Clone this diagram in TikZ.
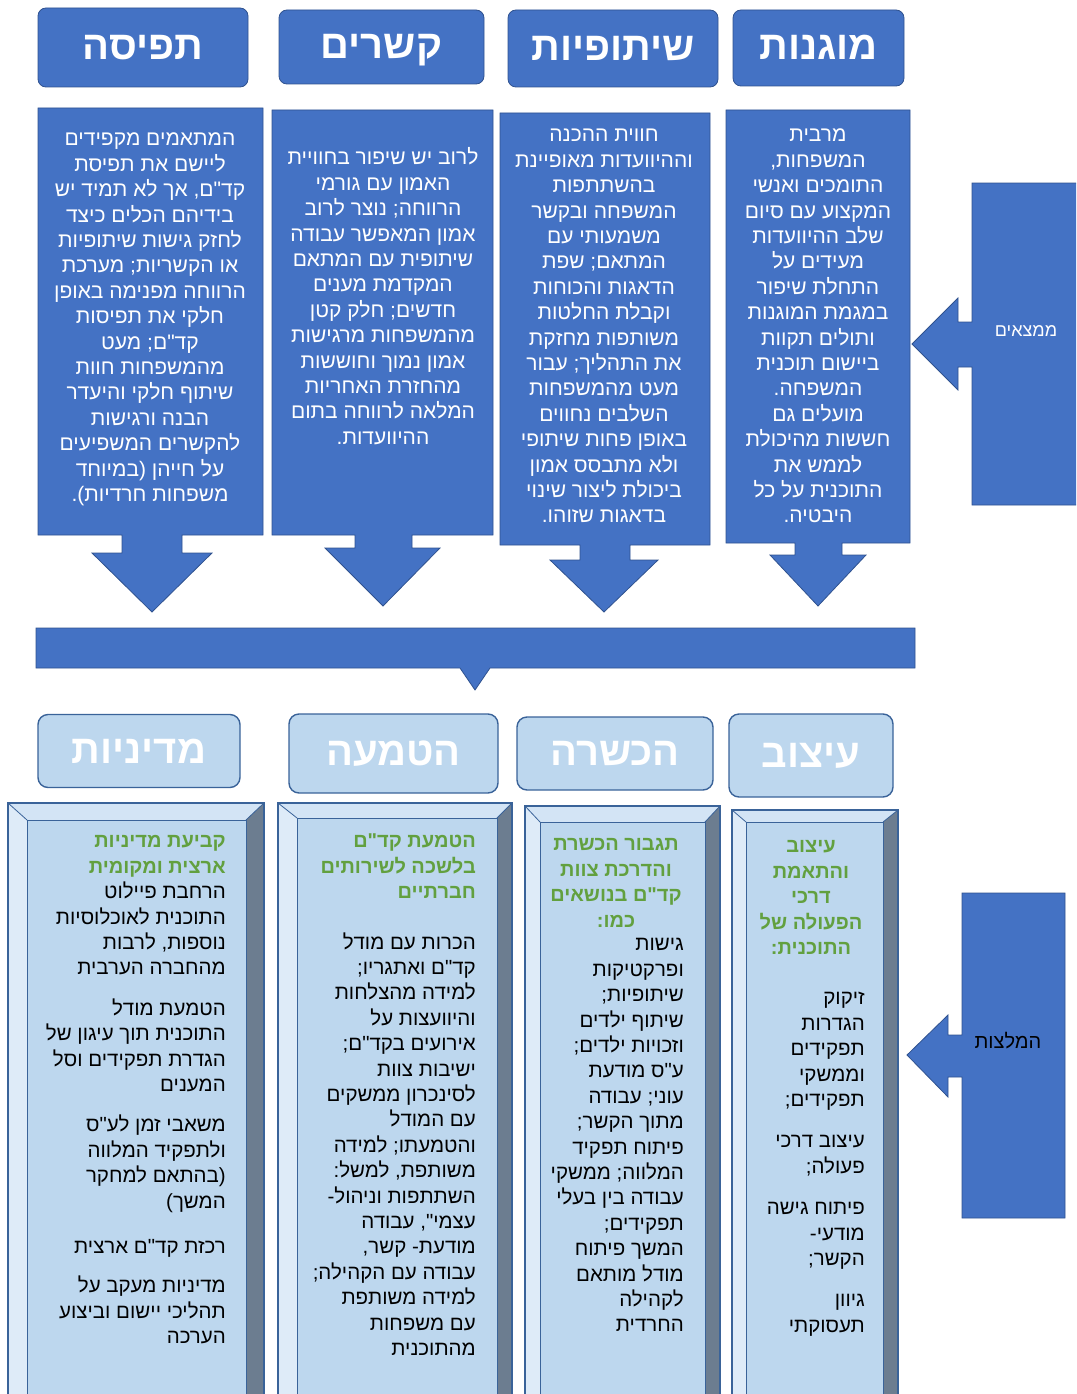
\documentclass[tikz,border=0pt]{standalone}
\usepackage{fontspec}
\TeXXeTstate=1
\newfontfamily\heb[Script=Hebrew]{Liberation Sans}
\newcommand\rl[1]{\strut\beginR#1\endR}
\definecolor{tblue}{HTML}{4472C4}
\definecolor{tborder}{HTML}{2F528F}
\definecolor{lblue}{HTML}{BDD7EE}
\definecolor{lborder}{HTML}{3A6399}
\definecolor{bvtopc}{HTML}{D3E4F5}
\definecolor{bvleftc}{HTML}{DEEBF8}
\definecolor{bvrightc}{HTML}{6C7D90}
\definecolor{hgreen}{HTML}{62A03F}
\newcommand\bevelbox[7]{%
  \fill[bvtopc] (#1,#2) -- (#3,#2) -- (#6,#5) -- (#4,#5) -- cycle;
  \fill[bvleftc] (#1,#2) -- (#4,#5) -- (#4,#7) -- (#1,#7) -- cycle;
  \fill[bvrightc] (#3,#2) -- (#3,#7) -- (#6,#7) -- (#6,#5) -- cycle;
  \draw[lborder,line width=0.8pt,fill=lblue] (#4,#5) rectangle (#6,#7);
  \draw[lborder,line width=0.8pt] (#1,#2) -- (#4,#5) (#3,#2) -- (#6,#5);
  \draw[lborder,line width=1.4pt] (#1,#7) -- (#1,#2) -- (#3,#2) -- (#3,#7);
}
\begin{document}
\begin{tikzpicture}[x=1pt,y=-1pt,
  tophdr/.style={rounded corners=8pt,fill=tblue,draw=tborder,line width=0.8pt,text=white,
    font=\heb\bfseries\fontsize{40}{46}\selectfont,inner sep=0pt,text height=30pt,text depth=6pt},
  bothdr/.style={rounded corners=10pt,fill=lblue,draw=lborder,line width=1.4pt,text=white,
    font=\heb\bfseries\fontsize{40}{46}\selectfont,inner sep=0pt,text height=30pt,text depth=6pt},
  calloutshape/.style={fill=tblue,draw=tborder,line width=0.8pt},
  toptext/.style={text=white,align=center,anchor=north,inner sep=0pt,
    font=\heb\fontsize{21}{25.4}\selectfont},
  bodytext/.style={text=black,align=right,anchor=north east,inner sep=0pt,
    font=\heb\fontsize{20.5}{25.4}\selectfont},
  greentext/.style={text=hgreen,inner sep=0pt,
    font=\heb\bfseries\fontsize{20}{25.4}\selectfont}
]
\useasboundingbox (0,0) rectangle (1076,1394);
\clip (0,0) rectangle (1076,1394);

% ---------- top headers ----------
\node[tophdr,minimum width=210pt,minimum height=79pt] (hTfisa) at (143,47.5) {\rl{תפיסה}};
\node[tophdr,minimum width=205pt,minimum height=74pt] (hKsharim) at (381.5,47) {\rl{קשרים}};
\node[tophdr,minimum width=210pt,minimum height=77pt] (hShitufiut) at (613,48.5) {\rl{שיתופיות}};
\node[tophdr,minimum width=171pt,minimum height=76pt] (hMugnut) at (818.5,48) {\rl{מוגנות}};

% ---------- top callouts ----------
\draw[calloutshape] (38,108) -- (263,108) -- (263,535) -- (182,535) -- (182,553) -- (212,553)
  -- (152,612) -- (92,553) -- (122,553) -- (122,535) -- (38,535) -- cycle;
\draw[calloutshape] (272,110) -- (493,110) -- (493,535) -- (412,535) -- (412,548) -- (440,548)
  -- (383,606) -- (325,548) -- (355,548) -- (355,535) -- (272,535) -- cycle;
\draw[calloutshape] (500,113) -- (710,113) -- (710,545) -- (630,545) -- (630,560) -- (658,560)
  -- (604,612) -- (550,560) -- (580,560) -- (580,545) -- (500,545) -- cycle;
\draw[calloutshape] (726,110) -- (910,110) -- (910,543) -- (842,543) -- (842,555) -- (866,555)
  -- (818,606) -- (770,555) -- (795,555) -- (795,543) -- (726,543) -- cycle;

\node[toptext] (tTfisa) at (150,128) {%
\rl{המתאמים מקפידים}\\
\rl{ליישם את תפיסת}\\
\rl{קד"ם, אך לא תמיד יש}\\
\rl{בידיהם הכלים כיצד}\\
\rl{לחזק גישות שיתופיות}\\
\rl{או הקשריות; מערכת}\\
\rl{הרווחה מפנימה באופן}\\
\rl{חלקי את תפיסות}\\
\rl{קד"ם; מעט}\\
\rl{מהמשפחות חוות}\\
\rl{שיתוף חלקי והיעדר}\\
\rl{הבנה ורגישות}\\
\rl{להקשרים המשפיעים}\\
\rl{על חייהן (במיוחד}\\
\rl{משפחות  חרדיות).}};

\node[toptext] (tKsharim) at (383,147) {%
\rl{לרוב יש שיפור בחוויית}\\
\rl{האמון עם גורמי}\\
\rl{הרווחה; נוצר לרוב}\\
\rl{אמון המאפשר עבודה}\\
\rl{שיתופית עם המתאם}\\
\rl{המקדמת מענים}\\
\rl{חדשים; חלק קטן}\\
\rl{מהמשפחות מרגישות}\\
\rl{אמון נמוך וחוששות}\\
\rl{מהחזרת האחריות}\\
\rl{המלאה לרווחה בתום}\\
\rl{ההיוועדות.}};

\node[toptext] (tShitufiut) at (604,124) {%
\rl{חווית ההכנה}\\
\rl{וההיוועדות מאופיינת}\\
\rl{בהשתתפות}\\
\rl{המשפחה ובקשר}\\
\rl{משמעותי עם}\\
\rl{המתאם; שפת}\\
\rl{הדאגות והכוחות}\\
\rl{וקבלת החלטות}\\
\rl{משותפות מחזקת}\\
\rl{את התהליך; עבור}\\
\rl{מעט מהמשפחות}\\
\rl{השלבים נחווים}\\
\rl{באופן פחות שיתופי}\\
\rl{ולא מתבסס אמון}\\
\rl{ביכולת ליצור שינוי}\\
\rl{בדאגות שזוהו.}};

\node[toptext] (tMugnut) at (818,124) {%
\rl{מרבית}\\
\rl{המשפחות,}\\
\rl{התומכים ואנשי}\\
\rl{המקצוע עם סיום}\\
\rl{שלב ההיוועדות}\\
\rl{מעידים על}\\
\rl{התחלת שיפור}\\
\rl{במגמת המוגנות}\\
\rl{ותולים תקוות}\\
\rl{ביישום תוכנית}\\
\rl{המשפחה.}\\
\rl{מועלים גם}\\
\rl{חששות מהיכולת}\\
\rl{לממש את}\\
\rl{התוכנית על כל}\\
\rl{היבטיה.}};

% ---------- right arrow: findings ----------
\draw[calloutshape] (972,183) -- (1080,183) -- (1080,505) -- (972,505) -- (972,367) -- (958,367)
  -- (958,390) -- (912,344) -- (958,298) -- (958,322) -- (972,322) -- cycle;
\node[text=white,inner sep=0pt,font=\heb\fontsize{18}{20}\selectfont] (lFindings) at (1026,332) {\rl{ממצאים}};

% ---------- middle bar ----------
\draw[calloutshape] (36,628) -- (915,628) -- (915,668) -- (490,668) -- (475,690) -- (460,668)
  -- (36,668) -- cycle;

% ---------- bottom headers ----------
\node[bothdr,minimum width=202pt,minimum height=73pt] (hMediniut) at (139,751) {\rl{מדיניות}};
\node[bothdr,minimum width=209pt,minimum height=79pt] (hHatmaa) at (393.5,753.5) {\rl{הטמעה}};
\node[bothdr,minimum width=196pt,minimum height=73pt] (hHachshara) at (615,753.5) {\rl{הכשרה}};
\node[bothdr,minimum width=164pt,minimum height=83pt] (hItzuv) at (811,755.5) {\rl{עיצוב}};

% ---------- bottom bevel boxes ----------
\bevelbox{8}{803}{264}{27}{820}{246}{1400}
\bevelbox{278}{803}{512}{297}{818}{497}{1400}
\bevelbox{525}{806}{720}{540}{822}{705}{1400}
\bevelbox{732}{810}{898}{746}{822}{883}{1400}

% col 1: policy
\node[bodytext] (bMediniut) at (226,830) {%
\textcolor{hgreen}{\bfseries\fontsize{20}{25.4}\selectfont\rl{קביעת מדיניות}}\\
\textcolor{hgreen}{\bfseries\fontsize{20}{25.4}\selectfont\rl{ארצית ומקומית}}\\
\rl{הרחבת פיילוט}\\
\rl{התוכנית לאוכלוסיות}\\
\rl{נוספות, לרבות}\\
\rl{מהחברה הערבית}\\[15pt]
\rl{הטמעת מודל}\\
\rl{התוכנית תוך עיגון של}\\
\rl{הגדרת תפקידים וסל}\\
\rl{המענים}\\[15pt]
\rl{משאבי זמן לע"ס}\\
\rl{ולתפקיד המלווה}\\
\rl{(בהתאם למחקר}\\
\rl{המשך)}\\[20pt]
\rl{רכזת קד"ם ארצית}\\[14pt]
\rl{מדיניות מעקב על}\\
\rl{תהליכי יישום וביצוע}\\
\rl{הערכה}};

% col 2: implementation
\node[bodytext] (bHatmaa) at (476,830) {%
\textcolor{hgreen}{\bfseries\fontsize{20}{25.4}\selectfont\rl{הטמעת קד"ם}}\\
\textcolor{hgreen}{\bfseries\fontsize{20}{25.4}\selectfont\rl{בלשכה לשירותים}}\\
\textcolor{hgreen}{\bfseries\fontsize{20}{25.4}\selectfont\rl{חברתיים}}\\[25pt]
\rl{הכרות עם מודל}\\
\rl{קד"ם ואתגריו;}\\
\rl{למידה מהצלחות}\\
\rl{והיוועצות על}\\
\rl{אירועים בקד"ם;}\\
\rl{ישיבות צוות}\\
\rl{לסינכרון ממשקים}\\
\rl{עם המודל}\\
\rl{והטמעתו; למידה}\\
\rl{משותפת, למשל:}\\
\rl{השתתפות וניהול-}\\
\rl{עצמי", עבודה}\\
\rl{מודעת- קשר,}\\
\rl{עבודה עם הקהילה;}\\
\rl{למידה משותפת}\\
\rl{עם משפחות}\\
\rl{מהתוכנית}};

% col 3: training
\node[greentext,align=center,anchor=north] (gHachshara) at (616,833) {%
\rl{תגבור הכשרת}\\
\rl{והדרכת צוות}\\
\rl{קד"ם בנושאים}\\
\rl{כמו:}};
\node[bodytext] (bHachshara) at (684,933) {%
\rl{גישות}\\
\rl{ופרקטיקות}\\
\rl{שיתופיות;}\\
\rl{שיתוף ילדים}\\
\rl{וזכויות ילדים;}\\
\rl{ע"ס מודעת}\\
\rl{עוני; עבודה}\\
\rl{מתוך הקשר;}\\
\rl{פיתוח תפקיד}\\
\rl{המלווה; ממשקי}\\
\rl{עבודה בין בעלי}\\
\rl{תפקידים;}\\
\rl{המשך פיתוח}\\
\rl{מודל מותאם}\\
\rl{לקהילה}\\
\rl{החרדית}};

% col 4: design
\node[greentext,align=center,anchor=north] (gItzuv) at (811,835) {%
\rl{עיצוב}\\
\rl{והתאמת}\\
\rl{דרכי}\\
\rl{הפעולה של}\\
\rl{התוכנית:}};
\node[bodytext] (bItzuv) at (865,987) {%
\rl{זיקוק}\\
\rl{הגדרות}\\
\rl{תפקידים}\\
\rl{וממשקי}\\
\rl{תפקידים;}\\[16pt]
\rl{עיצוב דרכי}\\
\rl{פעולה;}\\[16pt]
\rl{פיתוח גישה}\\
\rl{מודעי-}\\
\rl{הקשר;}\\[16pt]
\rl{גיוון}\\
\rl{תעסוקתי}};

% ---------- right arrow: recommendations ----------
\draw[calloutshape] (962,893) -- (1065,893) -- (1065,1218) -- (962,1218) -- (962,1077) -- (948,1077)
  -- (948,1097) -- (907,1055) -- (948,1015) -- (948,1035) -- (962,1035) -- cycle;
\node[text=black,inner sep=0pt,font=\heb\fontsize{20}{22}\selectfont] (lRecs) at (1008,1044) {\rl{המלצות}};

\end{tikzpicture}
\end{document}
